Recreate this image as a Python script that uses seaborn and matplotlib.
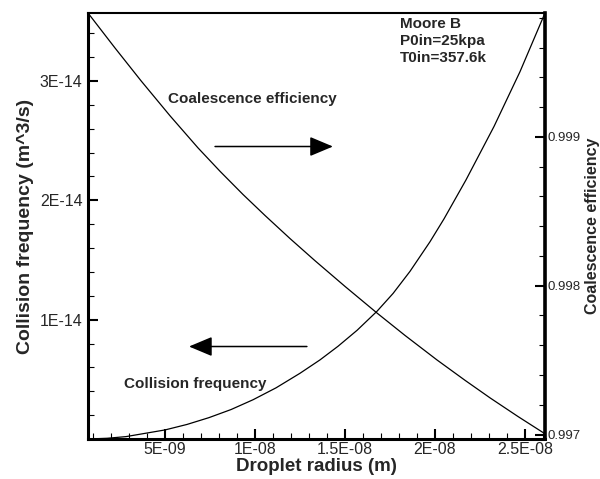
import matplotlib
matplotlib.use("Agg")
import matplotlib.pyplot as plt
import matplotlib.ticker as mticker
import seaborn as sns

# ---- data ----
freq_radius = [0.72e-9, 1.78e-9, 2.83e-9, 5.0e-9, 6.22e-9, 7.44e-9, 8.67e-9, 9.89e-9,
               11.17e-9, 12.5e-9, 13.61e-9, 14.61e-9, 15.67e-9, 16.78e-9, 17.67e-9,
               18.61e-9, 19.72e-9, 20.5e-9, 21.72e-9, 23.28e-9, 24.72e-9, 26.11e-9]
collision_freq = [0.0, 0.006e-14, 0.020e-14, 0.076e-14, 0.122e-14, 0.179e-14, 0.247e-14,
                  0.329e-14, 0.429e-14, 0.551e-14, 0.663e-14, 0.777e-14, 0.911e-14,
                  1.071e-14, 1.220e-14, 1.405e-14, 1.653e-14, 1.845e-14, 2.171e-14,
                  2.620e-14, 3.078e-14, 3.57e-14]

eff_radius = [0.72e-9, 2.22e-9, 3.67e-9, 5.28e-9, 6.83e-9, 8.06e-9, 9.33e-9, 10.56e-9,
              11.94e-9, 13.33e-9, 15.0e-9, 16.78e-9, 18.33e-9, 20.11e-9, 21.67e-9,
              23.06e-9, 24.61e-9, 26.11e-9]
coal_eff = [0.999832, 0.999597, 0.999376, 0.999141, 0.998926, 0.998768, 0.998613,
            0.998471, 0.998317, 0.998168, 0.997995, 0.997816, 0.997666, 0.997501,
            0.997364, 0.997246, 0.997121, 0.997005]

x_ticks = [5e-9, 1e-8, 1.5e-8, 2e-8, 2.5e-8]
x_ticklabels = ["5E-09", "1E-08", "1.5E-08", "2E-08", "2.5E-08"]
yl_ticks = [1e-14, 2e-14, 3e-14]
yl_ticklabels = ["1E-14", "2E-14", "3E-14"]
yr_ticks = [0.997, 0.998, 0.999]
yr_ticklabels = ["0.997", "0.998", "0.999"]

sns.set_style("ticks")
plt.rcParams['font.family'] = ['Liberation Sans', 'DejaVu Sans']

fig = plt.figure(figsize=(6, 4.79), dpi=100)
ax = fig.add_axes([88/600, 1 - 439/479, 457/600, 426/479])

sns.lineplot(x=freq_radius, y=collision_freq, ax=ax, color='black', lw=0.9)
ax.set_xlim(0.72e-9, 26.11e-9)
ax.set_ylim(0, 3.57e-14)

ax2 = ax.twinx()
sns.lineplot(x=eff_radius, y=coal_eff, ax=ax2, color='black', lw=0.9)
ax2.set_ylim(0.99697, 0.999832)

# ticks
ax.set_xticks(x_ticks)
ax.set_xticklabels(x_ticklabels)
ax.xaxis.set_minor_locator(mticker.MultipleLocator(1e-9))
ax.set_yticks(yl_ticks)
ax.set_yticklabels(yl_ticklabels)
ax.yaxis.set_minor_locator(mticker.MultipleLocator(2e-15))
ax2.set_yticks(yr_ticks)
ax2.set_yticklabels(yr_ticklabels)
ax2.yaxis.set_minor_locator(mticker.MultipleLocator(0.0002))

ax.tick_params(axis='both', which='major', direction='in', length=7.5, width=1.5,
               labelsize=11.5, color='black')
ax.tick_params(axis='both', which='minor', direction='in', length=4.5, width=0.8, color='black')
ax.tick_params(axis='x', which='major', pad=2)
ax.tick_params(axis='y', which='major', pad=4)
ax.tick_params(top=False, right=False, which='both')
ax2.tick_params(axis='y', which='major', direction='in', length=7.5, width=1.5,
                labelsize=9.5, pad=2, color='black')
ax2.tick_params(axis='y', which='minor', direction='in', length=4.5, width=0.8, color='black')

for s in ['left', 'bottom']:
    ax.spines[s].set_linewidth(2.2)
ax.spines['top'].set_linewidth(1.5)
ax2.spines['right'].set_linewidth(2.6)
for s in ['left', 'bottom', 'top']:
    ax2.spines[s].set_visible(False)
for sp in list(ax.spines.values()) + list(ax2.spines.values()):
    sp.set_color('black')

ax.set_xlabel("Droplet radius (m)", fontsize=13.5, fontweight='bold', labelpad=1)
ax.set_ylabel("Collision frequency (m^3/s)", fontsize=14, fontweight='bold', labelpad=4)
ax2.set_ylabel("Coalescence efficiency", fontsize=11.5, fontweight='bold', labelpad=3,
               rotation=90)

# annotations
ax.text(0.175, 0.7887, "Coalescence efficiency", transform=ax.transAxes,
        fontsize=11, fontweight='bold', va='baseline', ha='left')
ax.text(0.0788, 0.1197, "Collision frequency", transform=ax.transAxes,
        fontsize=11, fontweight='bold', va='baseline', ha='left')
ax.text(0.6827, 0.990, "Moore B\nP0in=25kpa\nT0in=357.6k", transform=ax.transAxes,
        fontsize=11, fontweight='bold', va='top', ha='left', linespacing=1.25)

arrow_props = dict(arrowstyle='-|>,head_length=1.0,head_width=0.42', color='black',
                   lw=1.1, mutation_scale=14.4, shrinkA=0, shrinkB=0)
ax.annotate("", xy=(0.536, 0.6866), xytext=(0.278, 0.6866), xycoords='axes fraction',
            textcoords='axes fraction', arrowprops=arrow_props)
ax.annotate("", xy=(0.221, 0.2171), xytext=(0.479, 0.2171), xycoords='axes fraction',
            textcoords='axes fraction', arrowprops=arrow_props)

fig.savefig("out.png", dpi=100)
